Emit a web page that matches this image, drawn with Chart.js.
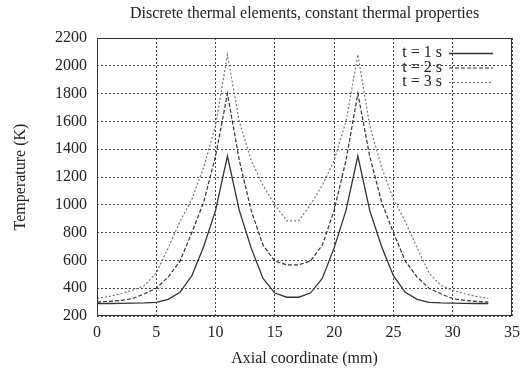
<!DOCTYPE html>
<html>
<head>
<meta charset="utf-8">
<title>Discrete thermal elements</title>
<script src="https://cdn.jsdelivr.net/npm/chart.js@4/dist/chart.umd.min.js"></script>
<style>
  html, body { margin: 0; padding: 0; background: #fff; }
  canvas { display: block; }
</style>
</head>
<body>
<canvas id="chart" width="520" height="370"></canvas>
<script>
// node positions along the rod (mm)
var axialMm = [0, 1, 2, 3, 4, 5, 6, 7, 8, 9, 10, 11, 12, 13, 14, 15, 16,
               17, 18, 19, 20, 21, 22, 23, 24, 25, 26, 27, 28, 29, 30, 31, 32, 33];

// temperature at each node (K)
var temp1s = [290, 290, 291, 292, 294, 298, 320, 370, 490, 700, 960, 1350,
              960, 690, 470, 365, 335, 335, 365, 470, 690, 960, 1350,
              960, 700, 490, 370, 320, 298, 294, 292, 291, 290, 290];
var temp2s = [300, 305, 312, 325, 360, 400, 480, 595, 800, 1020, 1350, 1800,
              1320, 960, 710, 595, 568, 568, 595, 710, 960, 1320, 1800,
              1350, 1020, 800, 595, 480, 400, 360, 325, 312, 305, 300];
var temp3s = [327, 340, 360, 385, 420, 510, 690, 880, 1040, 1270, 1570, 2080,
              1600, 1320, 1140, 1000, 885, 885, 1000, 1140, 1320, 1600, 2080,
              1570, 1270, 1040, 880, 690, 510, 420, 385, 360, 340, 327];

var seriesLabels = ['t = 1 s', 't = 2 s', 't = 3 s'];
var xTickValues = [0, 5, 10, 15, 20, 25, 30, 35];
var yTickValues = [200, 400, 600, 800, 1000, 1200, 1400, 1600, 1800, 2000, 2200];

var serif = '"Liberation Serif", "Times New Roman", serif';
var ink = '#222';

function points(values) {
  return axialMm.map(function (x, i) { return { x: x, y: values[i] }; });
}

function plainTicks(list) {
  return function (s) { s.ticks = list.map(function (v) { return { value: v }; }); };
}

// gnuplot-style key in the upper right corner of the plot, plus the frame
var keyAndFrame = {
  id: 'keyAndFrame',
  afterDatasetsDraw: function (chart) {
    var ctx = chart.ctx, a = chart.chartArea;
    ctx.save();
    ctx.setLineDash([]);
    ctx.strokeStyle = '#333';
    ctx.lineWidth = 1;
    ctx.strokeRect(a.left + 0.5, a.top + 0.5, a.right - a.left - 1, a.bottom - a.top - 1);

    ctx.font = '16px ' + serif;
    ctx.textAlign = 'right';
    ctx.textBaseline = 'middle';
    chart.data.datasets.forEach(function (ds, i) {
      var y = a.top + 15 + i * 14.5;
      ctx.fillStyle = ink;
      ctx.fillText(ds.label, a.right - 70, y);
      ctx.beginPath();
      ctx.setLineDash(ds.borderDash || []);
      ctx.strokeStyle = ds.borderColor;
      ctx.lineWidth = ds.borderWidth;
      ctx.moveTo(a.right - 63, y + 0.5);
      ctx.lineTo(a.right - 19, y + 0.5);
      ctx.stroke();
    });
    ctx.restore();
  }
};

new Chart(document.getElementById('chart'), {
  type: 'line',
  data: {
    datasets: [
      { label: seriesLabels[0], data: points(temp1s), borderColor: '#333', borderWidth: 1.3, borderDash: [] },
      { label: seriesLabels[1], data: points(temp2s), borderColor: '#333', borderWidth: 1.2, borderDash: [4, 2] },
      { label: seriesLabels[2], data: points(temp3s), borderColor: '#777', borderWidth: 1.2, borderDash: [2, 2] }
    ]
  },
  options: {
    responsive: false,
    animation: false,
    devicePixelRatio: 1,
    layout: { padding: { left: 0, right: 8, top: 0, bottom: 0 } },
    elements: { point: { radius: 0 }, line: { tension: 0, fill: false } },
    plugins: {
      legend: { display: false },
      tooltip: { enabled: false },
      title: {
        display: true,
        fullSize: false,
        text: 'Discrete thermal elements, constant thermal properties',
        color: ink,
        font: { family: serif, size: 16, weight: 'normal' },
        padding: { top: 4, bottom: 14.8 }
      }
    },
    scales: {
      x: {
        type: 'linear',
        min: 0,
        max: 35,
        afterBuildTicks: plainTicks(xTickValues),
        afterFit: function (s) { s.height = 54; s.paddingLeft = 0; s.paddingRight = 0; },
        ticks: {
          color: ink, font: { family: serif, size: 16 }, padding: 7, maxRotation: 0,
          callback: function (v) { return String(v); }
        },
        grid: { color: '#444', lineWidth: 1, drawTicks: false },
        border: { display: false, dash: [2, 2] },
        title: {
          display: true,
          text: 'Axial coordinate (mm)',
          color: ink,
          font: { family: serif, size: 16 },
          padding: { top: 0, bottom: 2 }
        }
      },
      y: {
        min: 200,
        max: 2200,
        afterBuildTicks: plainTicks(yTickValues),
        afterFit: function (s) { s.width = 97; },
        ticks: {
          color: ink, font: { family: serif, size: 16 }, padding: 10,
          callback: function (v) { return String(v); }
        },
        grid: { color: '#444', lineWidth: 1, drawTicks: false },
        border: { display: false, dash: [2, 2] },
        title: {
          display: true,
          text: 'Temperature (K)',
          color: ink,
          font: { family: serif, size: 16 },
          padding: { top: 11, bottom: 0 }
        }
      }
    }
  },
  plugins: [keyAndFrame]
});
</script>
</body>
</html>
